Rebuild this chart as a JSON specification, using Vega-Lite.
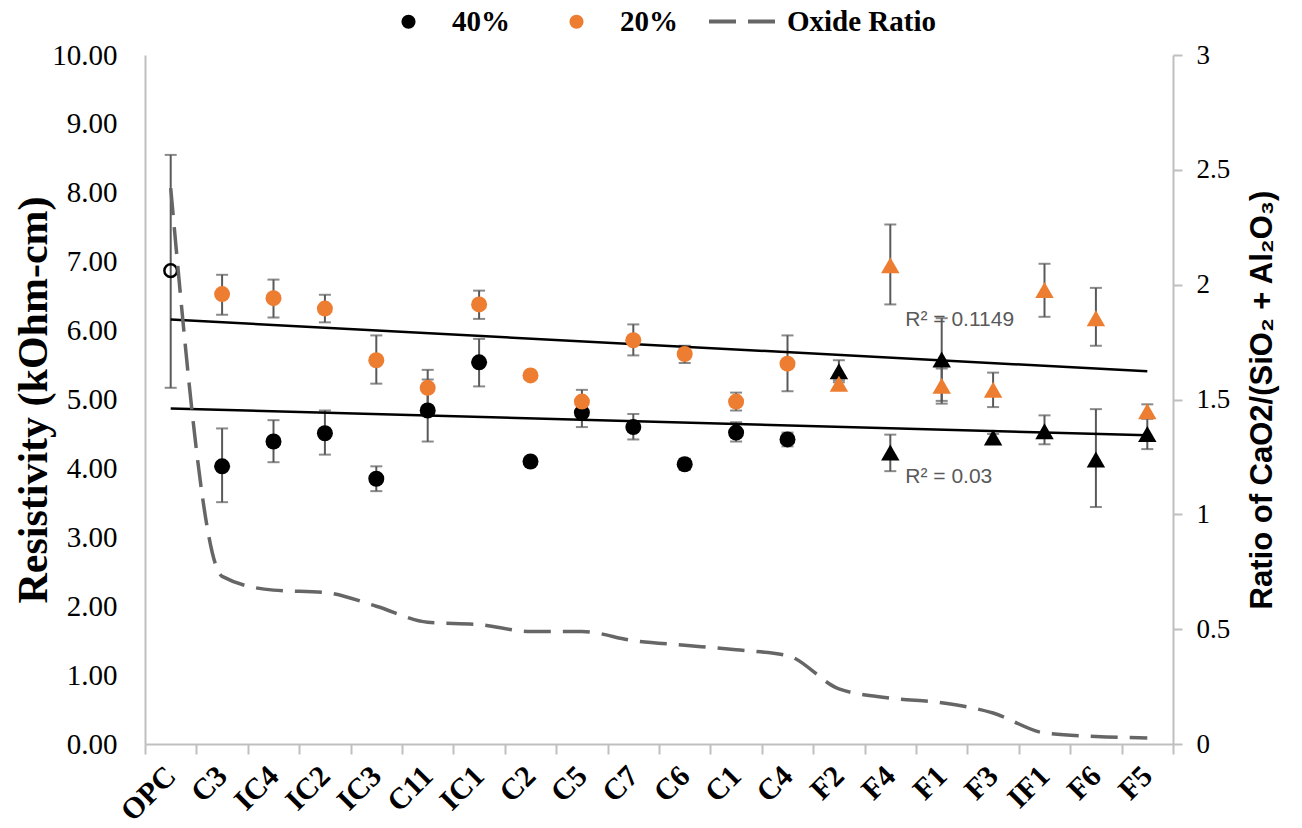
{
  "$schema": "https://vega.github.io/schema/vega-lite/v6.json",
  "width": 1028,
  "height": 689,
  "autosize": {"type": "none"},
  "padding": {"left": 145, "top": 55, "right": 129, "bottom": 84},
  "background": "white",
  "config": {
    "view": {"stroke": null},
    "axis": {"grid": false, "domainColor": "#BFBFBF", "domainWidth": 2, "tickColor": "#BFBFBF", "tickWidth": 2}
  },
  "datasets": {
    "res": [
      {"cat": "OPC", "series": "OPC", "family": "O", "value": 6.87, "lo": 5.17, "hi": 8.55},
      {"cat": "C3", "series": "40%", "family": "C", "value": 4.03, "lo": 3.51, "hi": 4.58},
      {"cat": "IC4", "series": "40%", "family": "C", "value": 4.39, "lo": 4.09, "hi": 4.70},
      {"cat": "IC2", "series": "40%", "family": "C", "value": 4.51, "lo": 4.20, "hi": 4.84},
      {"cat": "IC3", "series": "40%", "family": "C", "value": 3.85, "lo": 3.67, "hi": 4.03},
      {"cat": "C11", "series": "40%", "family": "C", "value": 4.84, "lo": 4.39, "hi": 5.29},
      {"cat": "IC1", "series": "40%", "family": "C", "value": 5.54, "lo": 5.19, "hi": 5.88},
      {"cat": "C2", "series": "40%", "family": "C", "value": 4.10, "lo": 4.08, "hi": 4.12},
      {"cat": "C5", "series": "40%", "family": "C", "value": 4.81, "lo": 4.60, "hi": 5.01},
      {"cat": "C7", "series": "40%", "family": "C", "value": 4.60, "lo": 4.42, "hi": 4.79},
      {"cat": "C6", "series": "40%", "family": "C", "value": 4.06, "lo": 3.98, "hi": 4.14},
      {"cat": "C1", "series": "40%", "family": "C", "value": 4.52, "lo": 4.39, "hi": 4.67},
      {"cat": "C4", "series": "40%", "family": "C", "value": 4.42, "lo": 4.32, "hi": 4.52},
      {"cat": "F2", "series": "40%", "family": "F", "value": 5.41, "lo": 5.25, "hi": 5.57},
      {"cat": "F4", "series": "40%", "family": "F", "value": 4.23, "lo": 3.96, "hi": 4.49},
      {"cat": "F1", "series": "40%", "family": "F", "value": 5.58, "lo": 4.98, "hi": 6.18},
      {"cat": "F3", "series": "40%", "family": "F", "value": 4.45, "lo": 4.40, "hi": 4.50},
      {"cat": "IF1", "series": "40%", "family": "F", "value": 4.54, "lo": 4.35, "hi": 4.77},
      {"cat": "F6", "series": "40%", "family": "F", "value": 4.13, "lo": 3.44, "hi": 4.86},
      {"cat": "F5", "series": "40%", "family": "F", "value": 4.50, "lo": 4.28, "hi": 4.72},
      {"cat": "C3", "series": "20%", "family": "C", "value": 6.53, "lo": 6.23, "hi": 6.81},
      {"cat": "IC4", "series": "20%", "family": "C", "value": 6.47, "lo": 6.19, "hi": 6.74},
      {"cat": "IC2", "series": "20%", "family": "C", "value": 6.32, "lo": 6.12, "hi": 6.52},
      {"cat": "IC3", "series": "20%", "family": "C", "value": 5.57, "lo": 5.23, "hi": 5.93},
      {"cat": "C11", "series": "20%", "family": "C", "value": 5.17, "lo": 4.91, "hi": 5.43},
      {"cat": "IC1", "series": "20%", "family": "C", "value": 6.38, "lo": 6.17, "hi": 6.58},
      {"cat": "C2", "series": "20%", "family": "C", "value": 5.35, "lo": 5.30, "hi": 5.40},
      {"cat": "C5", "series": "20%", "family": "C", "value": 4.97, "lo": 4.80, "hi": 5.14},
      {"cat": "C7", "series": "20%", "family": "C", "value": 5.86, "lo": 5.64, "hi": 6.09},
      {"cat": "C6", "series": "20%", "family": "C", "value": 5.66, "lo": 5.53, "hi": 5.78},
      {"cat": "C1", "series": "20%", "family": "C", "value": 4.97, "lo": 4.84, "hi": 5.10},
      {"cat": "C4", "series": "20%", "family": "C", "value": 5.52, "lo": 5.12, "hi": 5.93},
      {"cat": "F2", "series": "20%", "family": "F", "value": 5.23, "lo": 5.18, "hi": 5.28},
      {"cat": "F4", "series": "20%", "family": "F", "value": 6.95, "lo": 6.38, "hi": 7.54},
      {"cat": "F1", "series": "20%", "family": "F", "value": 5.20, "lo": 4.94, "hi": 5.45},
      {"cat": "F3", "series": "20%", "family": "F", "value": 5.14, "lo": 4.89, "hi": 5.39},
      {"cat": "IF1", "series": "20%", "family": "F", "value": 6.59, "lo": 6.20, "hi": 6.97},
      {"cat": "F6", "series": "20%", "family": "F", "value": 6.18, "lo": 5.78, "hi": 6.62},
      {"cat": "F5", "series": "20%", "family": "F", "value": 4.83, "lo": 4.73, "hi": 4.93}
    ],
    "oxide": [
      {"cat": "OPC", "ratio": 2.42},
      {"cat": "C3", "ratio": 0.73},
      {"cat": "IC4", "ratio": 0.67},
      {"cat": "IC2", "ratio": 0.66},
      {"cat": "IC3", "ratio": 0.60},
      {"cat": "C11", "ratio": 0.53},
      {"cat": "IC1", "ratio": 0.52},
      {"cat": "C2", "ratio": 0.49},
      {"cat": "C5", "ratio": 0.49},
      {"cat": "C7", "ratio": 0.45},
      {"cat": "C6", "ratio": 0.43},
      {"cat": "C1", "ratio": 0.41},
      {"cat": "C4", "ratio": 0.385},
      {"cat": "F2", "ratio": 0.24},
      {"cat": "F4", "ratio": 0.20},
      {"cat": "F1", "ratio": 0.18},
      {"cat": "F3", "ratio": 0.135},
      {"cat": "IF1", "ratio": 0.048},
      {"cat": "F6", "ratio": 0.033},
      {"cat": "F5", "ratio": 0.026}
    ],
    "trend": [
      {"cat": "OPC", "series": "20%", "value": 6.16},
      {"cat": "F5", "series": "20%", "value": 5.41},
      {"cat": "OPC", "series": "40%", "value": 4.87},
      {"cat": "F5", "series": "40%", "value": 4.48}
    ],
    "r2": [
      {"cat": "F4", "value": 6.16, "label": "R² = 0.1149"},
      {"cat": "F4", "value": 3.87, "label": "R² = 0.03"}
    ]
  },
  "encoding": {
    "x": {
      "field": "cat",
      "type": "nominal",
      "scale": {"type": "band", "paddingInner": 0, "paddingOuter": 0,
        "domain": ["OPC", "C3", "IC4", "IC2", "IC3", "C11", "IC1", "C2", "C5", "C7", "C6", "C1", "C4", "F2", "F4", "F1", "F3", "IF1", "F6", "F5"]},
      "axis": {"title": null, "labelAngle": -45, "labelAlign": "right", "labelBaseline": "middle", "labelFont": "Liberation Serif", "labelFontSize": 30, "labelFontWeight": "bold", "labelColor": "black", "tickBand": "extent", "tickSize": 10, "labelPadding": 17}
    }
  },
  "layer": [
    {
      "layer": [
        {
          "data": {"name": "res"},
          "mark": {"type": "rule", "color": "#595959", "strokeWidth": 2},
          "encoding": {
            "y": {"field": "lo", "type": "quantitative", "scale": {"domain": [0, 10], "nice": false},
              "axis": {"title": "Resistivity (kOhm-cm)", "values": [0, 1, 2, 3, 4, 5, 6, 7, 8, 9, 10], "format": ".2f", "ticks": false, "tickSize": 0, "labelPadding": 28, "labelFlush": false, "labelFont": "Liberation Serif", "labelFontSize": 29, "labelColor": "black", "titleFont": "Liberation Serif", "titleFontSize": 42, "titleFontWeight": "bold", "titleColor": "black", "titlePadding": -4}},
            "y2": {"field": "hi"}
          }
        },
        {
          "data": {"name": "res"},
          "mark": {"type": "tick", "color": "#595959", "size": 12, "thickness": 2, "orient": "horizontal"},
          "encoding": {"y": {"field": "lo", "type": "quantitative", "title": "Resistivity (kOhm-cm)"}}
        },
        {
          "data": {"name": "res"},
          "mark": {"type": "tick", "color": "#595959", "size": 12, "thickness": 2, "orient": "horizontal"},
          "encoding": {"y": {"field": "hi", "type": "quantitative", "title": "Resistivity (kOhm-cm)"}}
        },
        {
          "data": {"name": "trend"},
          "mark": {"type": "line", "color": "black", "strokeWidth": 2.5},
          "encoding": {
            "y": {"field": "value", "type": "quantitative", "title": "Resistivity (kOhm-cm)"},
            "detail": {"field": "series"}
          }
        },
        {
          "data": {"name": "res"},
          "transform": [{"filter": "datum.family === 'C'"}],
          "mark": {"type": "point", "shape": "circle", "filled": true, "size": 256, "opacity": 1},
          "encoding": {
            "y": {"field": "value", "type": "quantitative", "title": "Resistivity (kOhm-cm)"},
            "color": {"field": "series", "type": "nominal",
              "scale": {"domain": ["40%", "20%"], "range": ["#000000", "#ED7D31"]},
              "legend": {"orient": "none", "legendX": 249, "legendY": -48, "direction": "horizontal", "title": null, "symbolType": "circle", "symbolSize": 200, "symbolStrokeWidth": 0, "labelFont": "Liberation Serif", "labelFontSize": 29, "labelFontWeight": "bold", "labelColor": "black", "labelOffset": 29, "columnPadding": 52, "padding": 0}}
          }
        },
        {
          "data": {"name": "res"},
          "transform": [{"filter": "datum.family === 'F'"}],
          "mark": {"type": "point", "shape": "triangle-up", "filled": true, "size": 340, "opacity": 1},
          "encoding": {
            "y": {"field": "value", "type": "quantitative", "title": "Resistivity (kOhm-cm)"},
            "color": {"field": "series", "type": "nominal"}
          }
        },
        {
          "data": {"name": "res"},
          "transform": [{"filter": "datum.family === 'O'"}],
          "mark": {"type": "point", "shape": "circle", "filled": false, "stroke": "black", "strokeWidth": 2.5, "size": 160, "opacity": 1},
          "encoding": {"y": {"field": "value", "type": "quantitative", "title": "Resistivity (kOhm-cm)"}}
        },
        {
          "data": {"name": "r2"},
          "mark": {"type": "text", "align": "left", "baseline": "middle", "dx": 15, "font": "Liberation Sans", "fontSize": 21, "color": "#595959"},
          "encoding": {
            "y": {"field": "value", "type": "quantitative", "title": "Resistivity (kOhm-cm)"},
            "text": {"field": "label"}
          }
        }
      ]
    },
    {
      "data": {"name": "oxide"},
      "mark": {"type": "line", "color": "#666666", "strokeWidth": 3.5, "interpolate": "monotone"},
      "encoding": {
        "y": {"field": "ratio", "type": "quantitative", "scale": {"domain": [0, 3], "nice": false},
          "axis": {"orient": "right", "title": "Ratio of CaO2/(SiO₂ + Al₂O₃)", "values": [0, 0.5, 1, 1.5, 2, 2.5, 3], "format": "~g", "labelFlush": false, "labelFont": "Liberation Serif", "labelFontSize": 27, "labelColor": "black", "tickSize": 9, "labelPadding": 14, "titleFont": "Liberation Sans", "titleFontWeight": "bold", "titleFontSize": 31, "titleColor": "black", "titleAngle": 270, "titleBaseline": "top", "titlePadding": 18}},
        "strokeDash": {"datum": "Oxide Ratio", "type": "nominal",
          "scale": {"domain": ["Oxide Ratio"], "range": [[27, 12]]},
          "legend": {"orient": "none", "legendX": 562, "legendY": -71, "title": null, "symbolType": "stroke", "symbolSize": 5041, "symbolStrokeColor": "#666666", "symbolStrokeWidth": 4, "labelFont": "Liberation Serif", "labelFontSize": 29, "labelFontWeight": "bold", "labelColor": "black", "labelOffset": 5, "padding": 0}}
      }
    }
  ],
  "resolve": {"scale": {"y": "independent"}}
}
